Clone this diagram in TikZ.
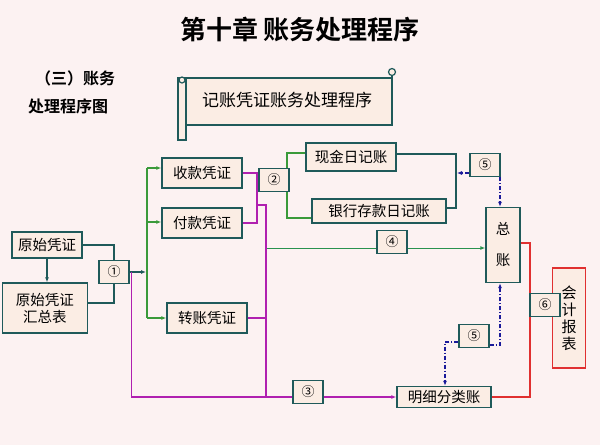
\documentclass[tikz,border=0pt]{standalone}
\usepackage{fontspec}
\setmainfont{Noto Sans CJK SC}
\newfontfamily\cjkb{Noto Sans CJK SC Bold}
\usetikzlibrary{arrows.meta}
\definecolor{bg}{HTML}{FCF2F2}
\definecolor{bd}{HTML}{1F5A5A}
\definecolor{fl}{HTML}{FBEDE4}
\definecolor{gr}{HTML}{3A9A3A}
\definecolor{mg}{HTML}{B020B0}
\definecolor{rd}{HTML}{E03030}
\definecolor{bl}{HTML}{1A1A9A}
\tikzset{
 bx/.style={draw=bd,line width=1.4pt,fill=fl,inner sep=2pt,font=\fontsize{14.5}{17}\selectfont,align=center},
 nb/.style={draw=bd,line width=1.2pt,fill=fl,minimum width=30pt,minimum height=23pt,inner sep=0pt,font=\fontsize{13}{13}\selectfont},
 gl/.style={draw=gr,line width=1.2pt},
 ml/.style={draw=mg,line width=1.4pt},
 rl/.style={draw=rd,line width=1.8pt},
 dl/.style={draw=bl,line width=1.2pt,dash pattern=on 4pt off 2pt on 1pt off 2pt},
 tip/.style={-{Latex[length=5pt,width=4pt]}}
}
\begin{document}
\begin{tikzpicture}[x=1pt,y=-1pt]
\fill[bg] (0,0) rectangle (600,445);
\useasboundingbox (0,0) rectangle (600,445);
\node[font=\cjkb\fontsize{26}{26}\selectfont] (title) at (300,30) {第十章\ 账务处理程序};
\node[font=\cjkb\fontsize{16}{16}\selectfont] (sub1) at (75,78) {（三）账务};
\node[font=\cjkb\fontsize{16}{16}\selectfont] (sub2) at (68,106) {处理程序图};
% scroll
\draw[bd,line width=1.2pt,fill=fl] (182,78) rectangle (392,125);
\draw[bd,line width=1.2pt,fill=fl] (178,78) rectangle (186,140);
\draw[bd,line width=1.2pt] (392,68) -- (392,80);
\draw[bd,line width=1.2pt,fill=fl] (392,72) circle (3.5);
\draw[bd,line width=1.2pt,fill=fl] (182,80) circle (3);
\node[font=\fontsize{17}{17}\selectfont] (scroll) at (287,100) {记账凭证账务处理程序};
% nodes
\node[bx,minimum width=70pt,minimum height=26pt] (ys) at (47,245) {原始凭证};
\node[bx,minimum width=85pt,minimum height=50pt] (hz) at (45,308) {原始凭证\\汇总表};
\node[nb] (n1) at (114,272) {①};
\node[bx,minimum width=80pt,minimum height=30pt] (sk) at (202,173) {收款凭证};
\node[bx,minimum width=80pt,minimum height=30pt] (fk) at (202,223) {付款凭证};
\node[bx,minimum width=80pt,minimum height=30pt] (zz) at (207,318) {转账凭证};
\node[nb] (n2) at (274,180) {②};
\node[bx,minimum width=90pt,minimum height=28pt] (xj) at (351,157) {现金日记账};
\node[bx,minimum width=134pt,minimum height=24pt] (yh) at (379,211) {银行存款日记账};
\node[nb] (n5a) at (485,165) {⑤};
\node[bx,minimum width=34pt,minimum height=75pt] (gz) at (503,245) {总\\[14pt]账};
\node[nb] (n4) at (392,242) {④};
\node[bx,draw=rd,minimum width=33pt,minimum height=100pt,font=\fontsize{15}{17}\selectfont] (kj) at (569,318) {会\\计\\报\\表};
\node[nb] (n6) at (545,305) {⑥};
\node[nb] (n5b) at (474,336) {⑤};
\node[nb] (n3) at (308,392) {③};
\node[bx,minimum width=94pt,minimum height=21pt] (mx) at (444,397) {明细分类账};
% connectors
\draw[bd,line width=1.2pt] (ys.east) -| (n1.north);
\draw[bd,line width=1.2pt] (hz.east |- 0,303) -| (n1.south);
\draw[bd,line width=1.2pt,tip] (ys.south) -- (hz.north -| ys.south);
\draw[bd,line width=1.2pt,tip] (n1.east) -- (146,272);
\draw[gl] (147,168) -- (147,318);
\draw[gl,tip] (147,168) -- (sk.west |- 0,168);
\draw[gl,tip] (147,222) -- (fk.west |- 0,222);
\draw[gl,tip] (147,318) -- (zz.west);
\draw[ml] (sk.east) -| (257,223) -- (fk.east);
\draw[ml] (257,180) -- (n2.west);
\draw[ml] (257,205) -| (266,397);
\draw[ml] (zz.east) -- (266,318);
\draw[ml] (n1.east) ++(2,0) |- (n3.west |- 0,397);
\draw[ml,tip] (n3.east |- 0,397) -- (mx.west);
\draw[gr!70!teal,line width=1pt] (267,248) -- (n4.west |- 0,248);
\draw[gr!70!teal,line width=1pt,tip] (n4.east |- 0,248) -- (gz.west |- 0,248);
\draw[gl] (287,168) |- (xj.west |- 0,153);
\draw[gl] (287,192) |- (yh.west |- 0,218);
\draw[bd,line width=1.2pt] (xj.east |- 0,154) -| (456,208) -- (yh.east |- 0,208);
\draw[dl,tip] (n5a.west |- 0,173) -- (457,173);
\draw[dl,tip] (500,177) -- (gz.north -| 500,0);
\draw[dl,tip] (n5b.east |- 0,345) -| (gz.south -| 500,0);
\draw[dl,tip] (n5b.west |- 0,342) -| (mx.north -| 445,0);
\draw[rl] (gz.east |- 0,243) -| (530,397) -- (mx.east);
\draw[rl] (530,305) -- (n6.west);
\node[nb] at (n3) {③};
\node[nb] at (n4) {④};
\node[nb] at (n6) {⑥};
\node[nb] at (n2) {②};
\end{tikzpicture}
\end{document}
